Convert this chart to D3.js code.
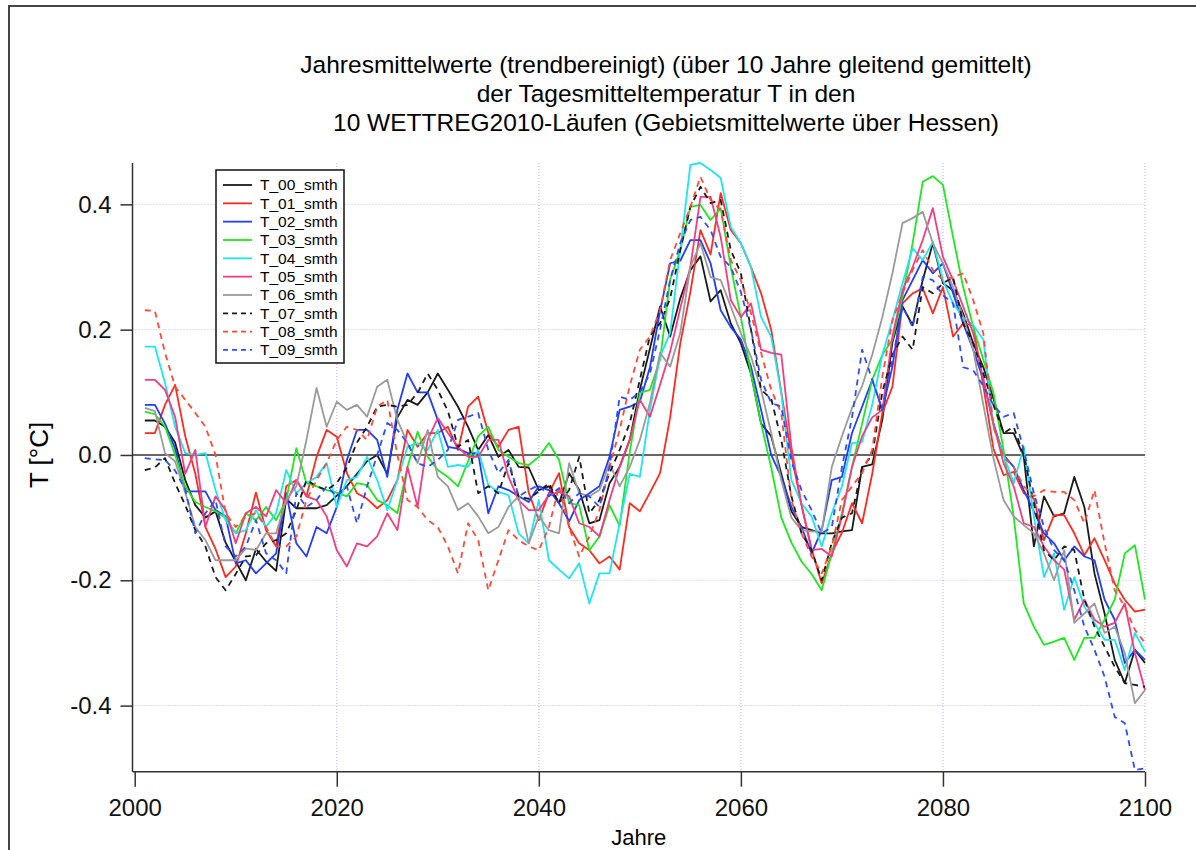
<!DOCTYPE html>
<html>
<head>
<meta charset="utf-8">
<script src="https://cdn.jsdelivr.net/npm/d3@7"></script>
<style>
  body { margin: 0; background: #fff; }
  svg { display: block; font-family: 'Liberation Sans', Arial, sans-serif; }
</style>
</head>
<body>
<div id="container"></div>
<script>
const w = 1196
const h = 850

// Daten: Jahre 2001..2100, je Lauf ein Wert pro Jahr
const firstYear = 2001
const lastYear = 2100
const xTicks = [2000, 2020, 2040, 2060, 2080, 2100]
const yTicks = [-0.4, -0.2, 0.0, 0.2, 0.4]
const runNames = ['T_00_smth', 'T_01_smth', 'T_02_smth', 'T_03_smth', 'T_04_smth',
                  'T_05_smth', 'T_06_smth', 'T_07_smth', 'T_08_smth', 'T_09_smth']

const t00 = [0.055, 0.055, 0.045, 0.02, -0.04, -0.08, -0.10, -0.09, -0.14, -0.17,
  -0.20, -0.15, -0.17, -0.185, -0.07, -0.085, -0.085, -0.085, -0.08, -0.065,
  -0.05, -0.03, -0.01, 0.0, -0.03, 0.06, 0.088, 0.08, 0.10, 0.13,
  0.104, 0.077, 0.045, 0.008, 0.032, -0.003, 0.008, -0.019, -0.02, -0.056,
  -0.05, -0.077, -0.029, -0.056, -0.109, -0.104, -0.045, -0.019, 0.024, 0.104,
  0.17, 0.237, 0.189, 0.25, 0.295, 0.317, 0.245, 0.263, 0.21, 0.178,
  0.13, 0.05, 0.03, -0.03, -0.09, -0.115, -0.12, -0.125, -0.125, -0.122,
  -0.12, -0.019, -0.015, 0.056, 0.18, 0.237, 0.207, 0.279, 0.338, 0.274,
  0.263, 0.226, 0.178, 0.14, 0.09, 0.035, 0.035, -0.003, -0.146, -0.066,
  -0.098, -0.093, -0.035, -0.083, -0.189, -0.253, -0.327, -0.364, -0.311, -0.332]

const t01 = [0.035, 0.035, 0.08, 0.112, 0.03, -0.03, -0.115, -0.15, -0.195, -0.178,
  -0.125, -0.06, -0.12, -0.146, -0.05, -0.04, -0.066, -0.003, 0.04, 0.029,
  -0.029, -0.061, -0.07, -0.085, -0.072, -0.04, 0.04, 0.013, 0.035, 0.035,
  0.045, 0.008, 0.077, 0.093, 0.035, 0.013, 0.04, 0.045, -0.06, -0.104,
  -0.061, -0.029, -0.115, -0.141, -0.152, -0.173, -0.162, -0.183, -0.077, -0.09,
  -0.06, -0.029, 0.06, 0.178, 0.26, 0.359, 0.32, 0.418, 0.359, 0.338,
  0.30, 0.258, 0.2, 0.1, 0.0, -0.08, -0.15, -0.205, -0.157, -0.124,
  -0.077, -0.109, -0.03, 0.067, 0.109, 0.242, 0.258, 0.266, 0.226, 0.268,
  0.189, 0.21, 0.207, 0.11, 0.01, -0.032, -0.027, -0.061, -0.07, -0.136,
  -0.096, -0.096, -0.125, -0.16, -0.133, -0.168, -0.205, -0.231, -0.25, -0.247]

const t02 = [0.08, 0.08, 0.05, 0.01, -0.058, -0.058, -0.058, -0.088, -0.098, -0.173,
  -0.168, -0.189, -0.173, -0.157, -0.061, -0.141, -0.162, -0.115, -0.125, -0.083,
  -0.008, 0.04, 0.04, 0.024, -0.035, 0.072, 0.13, 0.1, 0.1, 0.056,
  0.013, 0.01, 0.003, 0.003, -0.093, -0.05, -0.056, -0.066, -0.075, -0.05,
  -0.056, -0.077, -0.106, -0.072, -0.061, -0.05, -0.003, 0.072, 0.077, 0.085,
  0.14, 0.23, 0.306, 0.31, 0.343, 0.343, 0.306, 0.231, 0.204, 0.184,
  0.141, 0.072, 0.0, -0.035, -0.083, -0.115, -0.157, -0.12, -0.04, -0.035,
  0.035, 0.077, 0.12, 0.072, 0.141, 0.247, 0.279, 0.311, 0.29, 0.306,
  0.258, 0.21, 0.168, 0.12, 0.05, 0.0, -0.019, -0.056, -0.09, -0.125,
  -0.141, -0.168, -0.146, -0.162, -0.168, -0.231, -0.263, -0.332, -0.311, -0.327]

const t03 = [0.069, 0.065, 0.045, 0.0, -0.05, -0.075, -0.083, -0.09, -0.1, -0.125,
  -0.093, -0.104, -0.083, -0.104, -0.072, 0.011, -0.045, -0.05, -0.056, -0.06,
  -0.066, -0.045, -0.048, -0.072, -0.08, -0.093, -0.019, 0.037, -0.003, -0.024,
  -0.035, -0.05, -0.01, 0.03, 0.045, 0.008, -0.003, -0.013, -0.016, -0.003,
  0.019, -0.008, -0.077, -0.08, -0.152, -0.13, -0.08, -0.113, 0.005, 0.099,
  0.104, 0.152, 0.28, 0.327, 0.396, 0.399, 0.375, 0.394, 0.3, 0.22,
  0.13, 0.05, -0.02, -0.1, -0.14, -0.17, -0.19, -0.216, -0.157, -0.093,
  -0.019, 0.05, 0.12, 0.16, 0.184, 0.253, 0.338, 0.436, 0.445, 0.431,
  0.348, 0.268, 0.204, 0.152, 0.099, 0.008, -0.098, -0.237, -0.274, -0.303,
  -0.298, -0.292, -0.327, -0.292, -0.292, -0.263, -0.231, -0.157, -0.144, -0.231]

const t04 = [0.173, 0.173, 0.115, 0.045, 0.003, 0.0, 0.003, -0.056, -0.104, -0.125,
  -0.12, -0.088, -0.115, -0.093, -0.024, -0.061, -0.045, -0.035, -0.013, -0.083,
  -0.04, -0.035, -0.003, -0.04, -0.088, -0.04, 0.013, 0.019, 0.008, 0.04,
  -0.019, -0.016, -0.019, 0.008, -0.048, -0.059, -0.064, -0.125, -0.141, -0.072,
  -0.168, -0.183, -0.197, -0.173, -0.237, -0.189, -0.189, -0.109, -0.03, -0.035,
  0.072, 0.157, 0.195, 0.327, 0.463, 0.466, 0.455, 0.442, 0.364, 0.338,
  0.3, 0.22, 0.189, 0.099, -0.04, -0.077, -0.098, -0.146, -0.093, -0.05,
  0.019, 0.021, 0.08, 0.16, 0.215, 0.274, 0.33, 0.311, 0.34, 0.279,
  0.242, 0.22, 0.207, 0.184, 0.045, 0.0, -0.045, 0.013, -0.098, -0.195,
  -0.157, -0.247, -0.195, -0.242, -0.268, -0.295, -0.295, -0.343, -0.284, -0.314]

const t05 = [0.12, 0.12, 0.104, 0.061, -0.03, 0.008, -0.115, -0.066, -0.088, -0.141,
  -0.093, -0.083, -0.098, -0.056, -0.077, -0.04, -0.066, -0.072, -0.098, -0.152,
  -0.178, -0.141, -0.146, -0.13, -0.093, -0.12, -0.019, -0.083, 0.024, 0.059,
  0.035, 0.013, -0.003, -0.003, 0.024, 0.024, -0.035, -0.072, -0.088, -0.088,
  -0.064, -0.059, -0.066, -0.109, -0.115, -0.13, -0.072, -0.019, 0.024, 0.088,
  0.061, 0.112, 0.165, 0.234, 0.3, 0.412, 0.412, 0.348, 0.247, 0.22,
  0.242, 0.168, 0.163, 0.16, 0.013, -0.08, -0.152, -0.15, -0.162, -0.098,
  -0.019, 0.03, 0.06, 0.072, 0.189, 0.263, 0.3, 0.343, 0.394, 0.316,
  0.279, 0.237, 0.194, 0.12, 0.05, -0.013, -0.05, -0.109, -0.115, -0.146,
  -0.168, -0.183, -0.263, -0.231, -0.263, -0.274, -0.268, -0.237, -0.316, -0.375]

const t06 = [0.075, 0.07, 0.003, -0.01, -0.06, -0.115, -0.136, -0.168, -0.168, -0.168,
  -0.149, -0.152, -0.125, -0.125, -0.072, -0.05, 0.024, 0.107, 0.045, 0.085,
  0.072, 0.08, 0.061, 0.109, 0.12, 0.056, 0.019, -0.013, 0.04, -0.035,
  -0.05, -0.088, -0.077, -0.098, -0.125, -0.115, -0.083, -0.066, -0.141, -0.098,
  -0.12, -0.125, -0.013, -0.061, -0.066, -0.056, -0.013, -0.05, -0.019, 0.024,
  0.083, 0.163, 0.141, 0.195, 0.3, 0.338, 0.284, 0.279, 0.237, 0.194,
  0.157, 0.104, 0.035, -0.04, -0.1, -0.12, -0.122, -0.122, -0.019, 0.03,
  0.075, 0.11, 0.16, 0.22, 0.29, 0.37, 0.378, 0.388, 0.338, 0.306,
  0.268, 0.22, 0.168, 0.08, -0.005, -0.072, -0.098, -0.112, -0.125, -0.157,
  -0.2, -0.152, -0.268, -0.253, -0.237, -0.284, -0.274, -0.316, -0.396, -0.375]

const t07 = [-0.024, -0.02, -0.005, -0.045, -0.08, -0.12, -0.146, -0.195, -0.216, -0.19,
  -0.162, -0.16, -0.141, -0.136, -0.125, -0.088, -0.04, -0.05, -0.056, -0.045,
  -0.02, 0.02, 0.045, 0.077, 0.08, 0.077, 0.08, 0.099, 0.13, 0.104,
  0.07, 0.013, 0.024, -0.061, -0.05, -0.061, -0.013, -0.066, -0.07, -0.058,
  -0.045, -0.077, -0.056, -0.003, -0.093, -0.072, -0.029, 0.008, 0.051, 0.12,
  0.19, 0.21, 0.25, 0.327, 0.396, 0.428, 0.402, 0.407, 0.327, 0.29,
  0.2, 0.104, 0.09, 0.024, -0.066, -0.125, -0.152, -0.2, -0.14, -0.1,
  -0.093, -0.02, 0.0, 0.1, 0.16, 0.189, 0.168, 0.268, 0.258, 0.274,
  0.284, 0.21, 0.178, 0.13, 0.08, 0.035, 0.045, 0.0, -0.077, -0.152,
  -0.168, -0.146, -0.152, -0.231, -0.274, -0.306, -0.338, -0.364, -0.367, -0.37]

const t08 = [0.231, 0.23, 0.163, 0.109, 0.088, 0.067, 0.045, 0.0, -0.093, -0.115,
  -0.098, -0.093, -0.115, -0.146, -0.146, -0.13, -0.072, -0.04, -0.013, 0.024,
  0.045, 0.04, 0.024, 0.077, 0.088, 0.0, -0.072, -0.083, -0.104, -0.115,
  -0.146, -0.189, -0.109, -0.136, -0.216, -0.168, -0.12, -0.136, -0.146, -0.152,
  -0.115, -0.05, -0.115, -0.162, -0.13, -0.088, -0.019, 0.04, 0.11, 0.168,
  0.189, 0.231, 0.311, 0.354, 0.396, 0.444, 0.407, 0.391, 0.311, 0.279,
  0.226, 0.163, 0.104, 0.067, -0.072, -0.125, -0.162, -0.189, -0.146, -0.072,
  -0.05, -0.029, 0.008, 0.125, 0.215, 0.258, 0.295, 0.327, 0.295, 0.279,
  0.284, 0.29, 0.247, 0.194, 0.045, -0.003, -0.019, -0.05, -0.066, -0.056,
  -0.059, -0.059, -0.072, -0.109, -0.056, -0.141, -0.216, -0.242, -0.279, -0.3]

const t09 = [-0.005, -0.007, -0.008, -0.025, -0.055, -0.125, -0.093, -0.072, -0.146, -0.162,
  -0.146, -0.104, -0.157, -0.168, -0.189, -0.061, -0.083, -0.072, -0.05, -0.066,
  -0.05, -0.109, -0.05, 0.0, 0.051, 0.04, 0.019, -0.013, -0.019, -0.008,
  0.008, 0.056, 0.061, 0.067, 0.008, -0.029, -0.008, -0.066, -0.056, -0.048,
  -0.066, -0.053, -0.077, -0.061, -0.066, -0.083, -0.019, 0.093, 0.088, 0.1,
  0.13, 0.2, 0.279, 0.338, 0.375, 0.38, 0.359, 0.316, 0.3, 0.26,
  0.2, 0.12, 0.083, 0.077, -0.01, -0.056, -0.088, -0.125, -0.115, -0.02,
  0.06, 0.168, 0.12, 0.072, 0.152, 0.237, 0.204, 0.284, 0.279, 0.255,
  0.242, 0.14, 0.135, 0.11, 0.08, 0.061, 0.067, 0.008, -0.061, -0.115,
  -0.152, -0.168, -0.216, -0.274, -0.311, -0.354, -0.418, -0.428, -0.503, -0.5]

const runs = [t00, t01, t02, t03, t04, t05, t06, t07, t08, t09]

// Stil je Lauf
const colors = ['#1a1a1a', '#ff2a1f', '#1f3cff', '#1ee81e', '#1ee6f0',
                '#f53c82', '#9a9a9a', '#1a1a1a', '#ff4a3a', '#2e4cff']
const dashed = [false, false, false, false, false, false, false, true, true, true]

const years = d3.range(firstYear, lastYear + 1)

const svg = d3.select('#container')
              .append('svg')
              .attr('width', w)
              .attr('height', h)

// Rahmen um das ganze Bild
svg.append('rect')
   .attr('x', 9)
   .attr('y', 6)
   .attr('width', 1210)
   .attr('height', 900)
   .attr('fill', 'none')
   .attr('stroke', '#444')
   .attr('stroke-width', 2)

const plotLeft = 132.5
const plotRight = 1145
const plotTop = 163
const plotBottom = 771.7

// Skalen
const xScale = d3.scaleLinear()
                 .domain([2000, 2100])
                 .range([134.7, 1145])
const yScale = d3.scaleLinear()
                 .domain([-0.5055, 0.466])
                 .range([plotBottom, plotTop])

// Gitterlinien
const grid = svg.append('g')
                .attr('stroke', '#b4b4f6')
                .attr('stroke-width', 1)
                .attr('stroke-dasharray', '1,2')
grid.selectAll('.gx')
    .data(xTicks.slice(1))
    .enter()
    .append('line')
    .attr('x1', d => xScale(d))
    .attr('x2', d => xScale(d))
    .attr('y1', plotTop)
    .attr('y2', plotBottom)
grid.selectAll('.gy')
    .data(yTicks.filter(d => d !== 0))
    .enter()
    .append('line')
    .attr('x1', plotLeft)
    .attr('x2', plotRight)
    .attr('y1', d => yScale(d))
    .attr('y2', d => yScale(d))

// Nulllinie
svg.append('line')
   .attr('x1', plotLeft)
   .attr('x2', plotRight)
   .attr('y1', yScale(0))
   .attr('y2', yScale(0))
   .attr('stroke', '#333')
   .attr('stroke-width', 1.5)

// Kurven
const line = d3.line()
               .x((d, i) => xScale(years[i]))
               .y(d => yScale(d))

svg.append('g')
   .selectAll('path')
   .data(runs)
   .enter()
   .append('path')
   .attr('d', d => line(d))
   .attr('fill', 'none')
   .attr('stroke', (d, i) => colors[i])
   .attr('stroke-width', 1.8)
   .attr('stroke-linejoin', 'round')
   .attr('stroke-dasharray', (d, i) => dashed[i] ? '6,5' : null)

// Achsen
const xAxis = d3.axisBottom(xScale)
                .tickValues(xTicks)
                .tickFormat(d3.format('d'))
                .tickSize(15)
                .tickPadding(12)
const yAxis = d3.axisLeft(yScale)
                .tickValues(yTicks)
                .tickFormat(d => d.toFixed(1))
                .tickSize(12)
                .tickPadding(9)

const gx = svg.append('g')
              .attr('transform', 'translate(0, ' + plotBottom + ')')
              .call(xAxis)
gx.select('.domain').remove()
gx.append('line')
  .attr('x1', plotLeft).attr('x2', plotRight)
  .attr('stroke', '#333').attr('stroke-width', 1.5)

const gy = svg.append('g')
              .attr('transform', 'translate(' + plotLeft + ', 0)')
              .call(yAxis)
gy.select('.domain').remove()
gy.append('line')
  .attr('y1', plotTop).attr('y2', plotBottom)
  .attr('stroke', '#333').attr('stroke-width', 1.5)

svg.selectAll('.tick line').attr('stroke', '#333').attr('stroke-width', 1.5)
svg.selectAll('.tick text')
   .attr('fill', '#111')
   .style('font-size', '24px')
   .style('font-family', "'Liberation Sans', Arial, sans-serif")

// Achsentitel
svg.append('text')
   .attr('x', (plotLeft + plotRight) / 2)
   .attr('y', 845)
   .attr('text-anchor', 'middle')
   .style('font-size', '22px')
   .text('Jahre')
svg.append('text')
   .attr('transform', 'translate(48, ' + yScale(0) + ') rotate(-90)')
   .attr('text-anchor', 'middle')
   .style('font-size', '26px')
   .text('T [°C]')

// Titel
const titleLines = ['Jahresmittelwerte (trendbereinigt) (über 10 Jahre gleitend gemittelt)',
                    'der Tagesmitteltemperatur T in den',
                    '10 WETTREG2010-Läufen (Gebietsmittelwerte über Hessen)']
svg.append('g')
   .selectAll('text')
   .data(titleLines)
   .enter()
   .append('text')
   .attr('x', 666)
   .attr('y', (d, i) => 73 + i * 29)
   .attr('text-anchor', 'middle')
   .style('font-size', '24.5px')
   .text(d => d)

// Legende
const legend = svg.append('g')
legend.append('rect')
      .attr('x', 216)
      .attr('y', 170)
      .attr('width', 128)
      .attr('height', 193)
      .attr('fill', '#fff')
      .attr('stroke', '#111')
      .attr('stroke-width', 1.5)
const rows = legend.selectAll('.row')
                   .data(runNames)
                   .enter()
                   .append('g')
                   .attr('transform', (d, i) => 'translate(0, ' + (185 + i * 18.33) + ')')
rows.append('line')
    .attr('x1', 223)
    .attr('x2', 252)
    .attr('stroke', (d, i) => colors[i])
    .attr('stroke-width', 1.8)
    .attr('stroke-dasharray', (d, i) => dashed[i] ? '5,4' : null)
rows.append('text')
    .attr('x', 260)
    .attr('dy', '0.35em')
    .style('font-size', '15.5px')
    .text(d => d)
</script>
</body>
</html>
